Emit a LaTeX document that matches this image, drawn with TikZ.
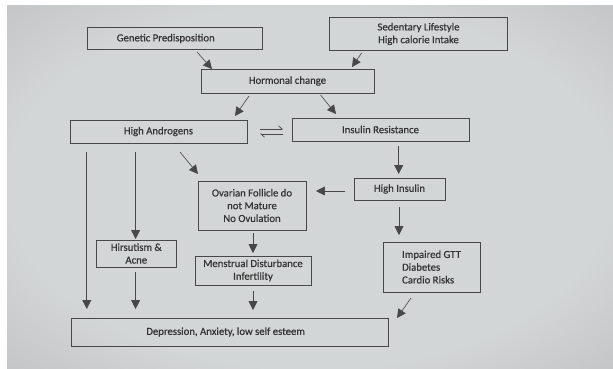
\documentclass[tikz,border=0pt]{standalone}
\usepackage{fontspec}
\setmainfont{Carlito}[FakeBold=0.6]
\usetikzlibrary{arrows.meta}
\definecolor{boxgray}{HTML}{484848}
\definecolor{txtgray}{HTML}{343434}
\definecolor{bginner}{HTML}{D3D6D6}
\definecolor{bgouter}{HTML}{8E8C92}
\pgfdeclareradialshading{vignette}{\pgfpoint{0bp}{0bp}}{color(0bp)=(bginner); color(25bp)=(bginner); color(71bp)=(bgouter)}
\begin{document}
\begin{tikzpicture}[x=0.04cm,y=-0.04cm]
	\tikzset{bx/.style={rectangle, draw=boxgray, line width=1pt, text=txtgray, inner sep=1pt, font=\fontsize{12.2}{14.5}\selectfont, align=center},
		ar/.style={draw=boxgray, line width=0.7pt, -{Triangle[length=10pt,width=10pt]}},
		hp/.style={draw=boxgray, line width=0.8pt, -{Straight Barb[left,length=4pt,width=7pt]}}};

	% background of the photographed screen
	\fill[white] (0,0) rectangle (613,368);
	\shade[shading=vignette] (7,5) rectangle (613,368);

	\node[bx, minimum width=7cm, minimum height=0.88cm] (gen) at (174.5, 38.5) {Genetic Predisposition\hspace*{0.7cm}};
	\node[bx, minimum width=7.12cm, minimum height=1.3cm] (sed) at (418.5, 34) {Sedentary Lifestyle\\High calorie Intake};
	\node[bx, minimum width=6.92cm, minimum height=0.96cm] (hor) at (287.5, 81) {Hormonal change};
	\node[bx, minimum width=7.08cm, minimum height=0.92cm] (andr) at (158.5, 131.5) {High Androgens};
	\node[bx, minimum width=7.08cm, minimum height=0.92cm] (ins) at (380.5, 129.5) {Insulin Resistance};
	\node[bx, minimum width=3.64cm, minimum height=0.88cm] (hin) at (399.5, 189) {High Insulin};
	\node[bx, minimum width=4.32cm, minimum height=1.96cm] (ova) at (252, 205.5) {Ovarian Follicle do\\not Mature\\No Ovulation};
	\node[bx, minimum width=3.18cm, minimum height=1.08cm] (hir) at (136.3, 253.5) {Hirsutism \&\\Acne};
	\node[bx, minimum width=4.64cm, minimum height=1.16cm] (men) at (253, 270.5) {Menstrual Disturbance\\Infertility};
	\node[bx, minimum width=3.88cm, minimum height=2cm, align=left] (gtt) at (431.5, 267) {Impaired GTT\\Diabetes\\Cardio Risks};
	\node[bx, minimum width=12.7cm, minimum height=1.12cm] (dep) at (230, 332) {Depression, Anxiety, low self esteem\hspace*{0.35cm}};

	% free ends of the arrows
	\coordinate (a1s) at (197, 52);    \coordinate (a1e) at (212, 69);
	\coordinate (a2s) at (361.5, 53);  \coordinate (a2e) at (352, 67);
	\coordinate (a3s) at (249, 96);    \coordinate (a3e) at (235, 116);
	\coordinate (a4s) at (320.5, 95);  \coordinate (a4e) at (336, 114);
	\coordinate (h1s) at (260, 129);   \coordinate (h1e) at (283, 129);
	\coordinate (h2s) at (283, 134);   \coordinate (h2e) at (260, 134);
	\coordinate (a5s) at (86.8, 152);  \coordinate (a5e) at (86.8, 309);
	\coordinate (a6s) at (135.6, 152); \coordinate (a6e) at (135.6, 239);
	\coordinate (a7s) at (180, 152);   \coordinate (a7e) at (198, 174);
	\coordinate (a8s) at (398.7, 146); \coordinate (a8e) at (398.7, 174);
	\coordinate (a9s) at (345, 191);   \coordinate (a9e) at (316, 191);
	\coordinate (a10s) at (399, 207);  \coordinate (a10e) at (399, 235);
	\coordinate (a11s) at (253, 233);  \coordinate (a11e) at (253, 253);
	\coordinate (a12s) at (135.6, 272); \coordinate (a12e) at (135.6, 309);
	\coordinate (a13s) at (253, 291);  \coordinate (a13e) at (253, 310);
	\coordinate (a14s) at (411, 298);  \coordinate (a14e) at (397, 318);

	\draw[ar] (a1s) -- (a1e);
	\draw[ar] (a2s) -- (a2e);
	\draw[ar] (a3s) -- (a3e);
	\draw[ar] (a4s) -- (a4e);

	\draw[hp] (h1s) -- (h1e);
	\draw[hp] (h2s) -- (h2e);

	\draw[ar] (a5s) -- (a5e);
	\draw[ar] (a6s) -- (a6e);
	\draw[ar] (a7s) -- (a7e);
	\draw[ar] (a8s) -- (a8e);
	\draw[ar] (a9s) -- (a9e);
	\draw[ar] (a10s) -- (a10e);
	\draw[ar] (a11s) -- (a11e);
	\draw[ar] (a12s) -- (a12e);
	\draw[ar] (a13s) -- (a13e);
	\draw[ar] (a14s) -- (a14e);

\end{tikzpicture}
\end{document}
